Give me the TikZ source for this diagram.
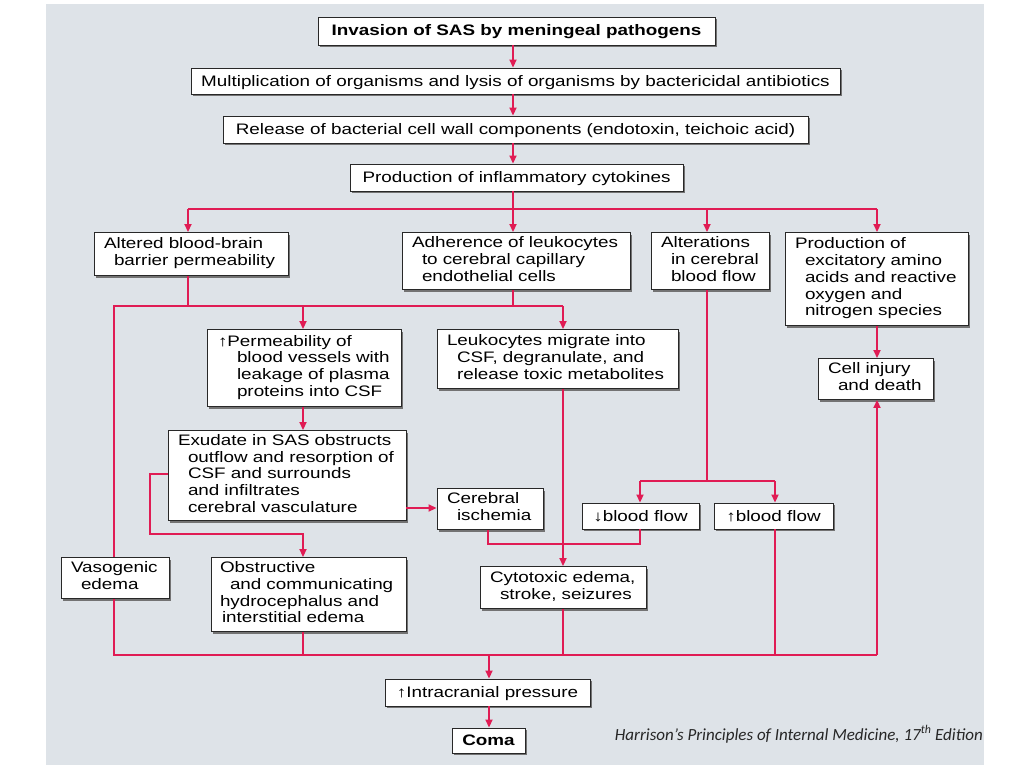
\documentclass[tikz,border=0pt]{standalone}
\usepackage{fontspec}
\setmainfont{Liberation Sans}[FakeStretch=1.24]
\newfontfamily\citefont{Carlito}
\usetikzlibrary{arrows.meta,shadows}
\definecolor{bgc}{RGB}{222,227,232}
\definecolor{redc}{RGB}{224,28,84}
\definecolor{boxc}{RGB}{40,40,40}
\newcommand\ii{\hspace*{10pt}}
\newcommand\tb[1]{\begin{tabular}{@{}l@{}}#1\end{tabular}}
\begin{document}
\begin{tikzpicture}[x=1pt,y=-1pt,
  box/.style={draw=boxc, line width=0.9pt, fill=white,
    drop shadow={shadow xshift=2pt, shadow yshift=-2pt, fill=black!55, opacity=1},
    inner ysep=0pt, font=\fontsize{15.2}{16.7}\selectfont},
  sbox/.style 2 args={box, minimum width=#1, minimum height=#2, inner xsep=0pt, align=center,
    text height=13pt, text depth=3pt},
  mbox/.style 2 args={box, text width=#1, minimum height=#2, inner xsep=10pt, align=left},
  conn/.style={draw=redc, line width=1.8pt},
  arr/.style={conn, -{Triangle[length=8pt,width=7pt]}}
]
\useasboundingbox (0,0) rectangle (1024,768);
\fill[white] (0,0) rectangle (1024,768);
\fill[bgc] (46,4) rectangle (984,765);

% nodes
\node[sbox={397pt}{28pt}] (inv) at (516.5,31) {\bfseries Invasion of SAS by meningeal pathogens};
\node[sbox={649pt}{26pt}] (mult) at (515.5,81) {Multiplication of organisms and lysis of organisms by bactericidal antibiotics};
\node[sbox={585pt}{27pt}] (rel) at (515.5,129.5) {Release of bacterial cell wall components (endotoxin, teichoic acid)};
\node[sbox={333pt}{27pt}] (prod) at (516.5,177.5) {Production of inflammatory cytokines};

\node[mbox={174pt}{43pt}] (alt) at (191,254) {\tb{Altered blood-brain\\\ii barrier permeability}};
\node[mbox={208pt}{57pt}] (adh) at (516,261) {\tb{Adherence of leukocytes\\\ii to cerebral capillary\\\ii endothelial cells}};
\node[mbox={98pt}{57pt}] (altc) at (710,261) {\tb{Alterations\\\ii in cerebral\\\ii blood flow}};
\node[mbox={163pt}{93pt}] (exc) at (876.5,279) {\tb{Production of\\\ii excitatory amino\\\ii acids and reactive\\\ii oxygen and\\\ii nitrogen species}};
\node[mbox={95pt}{41pt}] (cell) at (875.5,379) {\tb{Cell injury\\\ii and death}};

\node[mbox={172pt}{77pt}, inner xsep=11pt] (perm) at (304,368) {\tb{↑Permeability of\\\hspace*{19pt}blood vessels with\\\hspace*{19pt}leakage of plasma\\\hspace*{19pt}proteins into CSF}};
\node[mbox={221pt}{59pt}] (leuk) at (557.5,359) {\tb{Leukocytes migrate into\\\ii CSF, degranulate, and\\\ii release toxic metabolites}};
\node[mbox={218pt}{90pt}] (exu) at (287,475.5) {\tb{Exudate in SAS obstructs\\\ii outflow and resorption of\\\ii CSF and surrounds\\\ii and infiltrates\\\ii cerebral vasculature}};
\node[mbox={86pt}{41pt}] (isch) at (490,509) {\tb{Cerebral\\\ii ischemia}};
\node[sbox={117pt}{26pt}] (dbf) at (640.5,516) {↓blood flow};
\node[sbox={119pt}{26pt}] (ubf) at (773.5,516) {↑blood flow};

\node[mbox={88pt}{41pt}] (vaso) at (115,578) {\tb{Vasogenic\\\ii edema}};
\node[mbox={177pt}{74pt}, inner xsep=9pt] (obs) at (308.5,594.5) {\tb{Obstructive\\\ii and communicating\\hydrocephalus and\\\hspace*{2pt}interstitial edema}};
\node[mbox={146pt}{42pt}] (cyto) at (563,587.5) {\tb{Cytotoxic edema,\\\ii stroke, seizures}};

\node[sbox={205pt}{27pt}] (icp) at (487.5,692.5) {↑Intracranial pressure};
\node[sbox={73pt}{25pt}] (coma) at (488.5,740.5) {\bfseries Coma};

\node[anchor=base east, inner sep=0pt, text=black!85,
  font=\citefont\itshape\fontsize{17}{20}\selectfont] (cite) at (983,740)
  {Harrison’s Principles of Internal Medicine, 17\textsuperscript{th} Edition};

% lane coordinates
\coordinate (Xc) at (513,0);
\coordinate (Xa) at (188,0);
\coordinate (Xv) at (114,0);
\coordinate (Xp) at (303,0);
\coordinate (Xl) at (563,0);
\coordinate (Xf) at (707,0);
\coordinate (Xd) at (640,0);
\coordinate (Xu) at (775,0);
\coordinate (Xe) at (877,0);
\coordinate (Xi) at (489,0);
\coordinate (Xs) at (488,0);
% junctions
\coordinate (J1) at (513,209);
\coordinate (J2) at (188,306);
\coordinate (J3) at (707,481);
\coordinate (J4) at (489,655);

% top chain
\draw[arr] (inv.south -| Xc) -- (mult.north -| Xc);
\draw[arr] (mult.south -| Xc) -- (rel.north -| Xc);
\draw[arr] (rel.south -| Xc) -- (prod.north -| Xc);
\draw[conn] (prod.south -| Xc) -- (J1);
\draw[conn] (J1 -| Xa) -- (J1 -| Xe);
\draw[arr] (J1 -| Xa) -- (alt.north -| Xa);
\draw[arr] (J1) -- (adh.north -| Xc);
\draw[arr] (J1 -| Xf) -- (altc.north -| Xf);
\draw[arr] (J1 -| Xe) -- (exc.north -| Xe);
\draw[arr] (exc.south -| Xe) -- (cell.north -| Xe);

% second level
\draw[conn] (alt.south -| Xa) -- (J2);
\draw[conn] (adh.south -| Xc) -- (J2 -| Xc);
\draw[conn] (J2 -| Xl) -- (J2 -| Xv) -- (vaso.north -| Xv);
\draw[arr] (J2 -| Xp) -- (perm.north -| Xp);
\draw[arr] (J2 -| Xl) -- (leuk.north -| Xl);
\draw[arr] (perm.south -| Xp) -- (exu.north -| Xp);
\draw[arr] (exu.west |- 0,474) -- (150,474) -- (150,534) -- (303,534) -- (obs.north -| Xp);
\draw[arr] (exu.east |- 0,508) -- (isch.west |- 0,508);
\draw[arr] (leuk.south -| Xl) -- (cyto.north -| Xl);
\draw[conn] (isch.south -| Xs) -- (488,544) -- (640,544) -- (dbf.south -| Xd);
\draw[conn] (altc.south -| Xf) -- (J3);
\draw[conn] (J3 -| Xd) -- (J3 -| Xu);
\draw[arr] (J3 -| Xd) -- (dbf.north -| Xd);
\draw[arr] (J3 -| Xu) -- (ubf.north -| Xu);

% bottom collection
\draw[conn] (vaso.south -| Xv) -- (J4 -| Xv) -- (J4 -| Xe);
\draw[conn] (obs.south -| Xp) -- (J4 -| Xp);
\draw[conn] (cyto.south -| Xl) -- (J4 -| Xl);
\draw[conn] (ubf.south -| Xu) -- (J4 -| Xu);
\draw[arr] (J4 -| Xe) -- (cell.south -| Xe);
\draw[arr] (J4) -- (icp.north -| Xi);
\draw[arr] (icp.south -| Xi) -- (coma.north -| Xi);
\end{tikzpicture}
\end{document}
